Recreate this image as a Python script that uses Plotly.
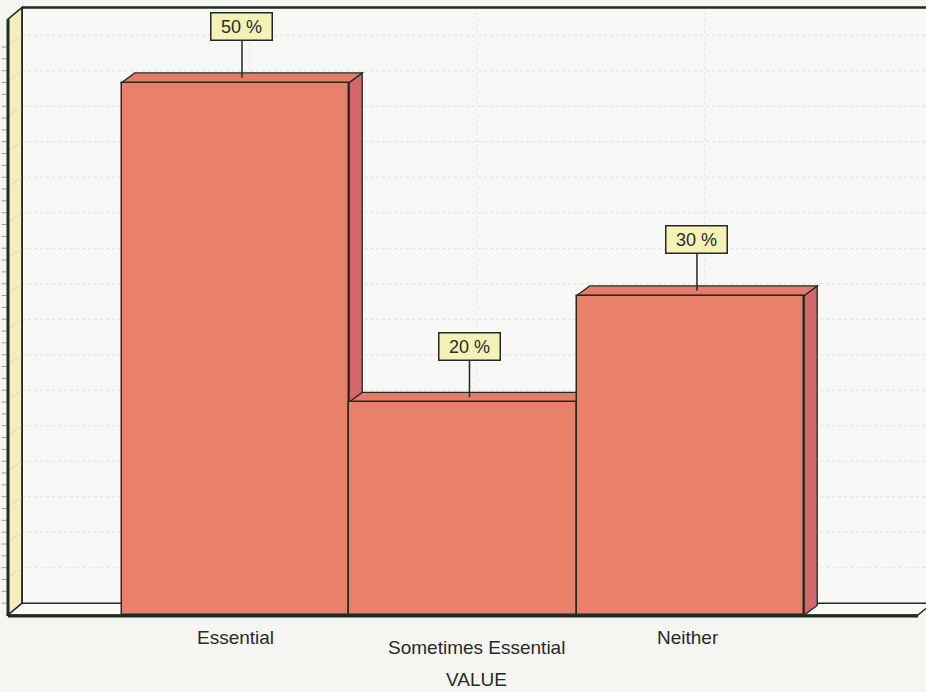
import plotly.graph_objects as go

# ---- data ----
categories = ["Essential", "Sometimes Essential", "Neither"]
percentages = [50, 20, 30]
value_labels = ["50 %", "20 %", "30 %"]
axis_title = "VALUE"

# ---- 3D frame geometry (data units) ----
X_MIN, X_MAX = -1.0, 3.0          # front edge of the floor
WALL_TOP = 55.95                   # top of the front-plane wall
FRAME_DX, FRAME_DY = 0.062, 1.10   # depth offset of the back wall
BAR_DX, BAR_DY = 0.057, 0.90       # depth offset of each bar
GRID_STEP = 10 / 3
N_GRID = 16

X_RANGE = [-1.0352, 3.0352]
Y_RANGE = [-7.23, 57.75]

# ---- colours ----
PAPER = "#f5f5f2"
BACK_WALL = "#f8f8f6"
FLOOR = "#fafaf8"
LEFT_WALL = "#f3efbd"
EDGE = "#1f2b23"
BAR_FRONT = "#e8806a"
BAR_TOP = "#e47c69"
BAR_SIDE = "#d3676c"
GRID = "#e0e0dc"
LABEL_BG = "#f5f2b8"
TEXT = "#2a2a2a"
FONT = "Liberation Sans, Arial, sans-serif"

shapes = []


def line(x0, y0, x1, y1, color=EDGE, width=1.5, dash="solid"):
    shapes.append(dict(type="line", xref="x", yref="y", x0=x0, y0=y0, x1=x1, y1=y1,
                       line=dict(color=color, width=width, dash=dash), layer="below"))


def poly(pts, fill, color=EDGE, width=1.5):
    d = "M " + " L ".join(f"{x},{y}" for x, y in pts) + " Z"
    shapes.append(dict(type="path", xref="x", yref="y", path=d, fillcolor=fill,
                       line=dict(color=color, width=width), layer="below"))


back_left = X_MIN + FRAME_DX
back_right = X_MAX + FRAME_DX + 0.2
back_top = WALL_TOP + FRAME_DY

# back wall
shapes.append(dict(type="rect", xref="x", yref="y", x0=back_left, x1=back_right,
                   y0=FRAME_DY, y1=back_top, fillcolor=BACK_WALL,
                   line=dict(width=0), layer="below"))

# horizontal gridlines on back wall
for k in range(1, N_GRID + 1):
    gy = FRAME_DY + k * GRID_STEP
    line(back_left, gy, back_right, gy, color=GRID, width=1, dash="dot")

# vertical gridlines at category centres on the back wall
for i in range(len(categories)):
    line(i + FRAME_DX, FRAME_DY, i + FRAME_DX, back_top, color="#e6e6e2", width=1, dash="dot")

# left wall
poly([(X_MIN, 0), (X_MIN, WALL_TOP), (back_left, back_top), (back_left, FRAME_DY)],
     LEFT_WALL, width=1.5)
for k in range(1, N_GRID + 1):
    line(back_left, FRAME_DY + k * GRID_STEP, X_MIN, k * GRID_STEP + 0.2,
         color="#dedab0", width=1)

# minor ticks at the outer edge of the left wall
for j in range(1, 3 * N_GRID + 1):
    ty = j * GRID_STEP / 3
    if ty < WALL_TOP:
        line(X_MIN - 0.028, ty, X_MIN - 0.004, ty, color="#9aa098", width=1)

# floor
poly([(X_MIN, 0), (X_MAX, 0), (X_MAX + FRAME_DX, FRAME_DY), (back_left, FRAME_DY)],
     FLOOR, width=1.5)

# heavy frame edges
line(X_MIN, -0.1, X_MAX, -0.1, width=3)
line(X_MIN, -0.1, X_MIN, WALL_TOP, width=3)
line(back_left, back_top, back_right, back_top, width=2.5)
line(back_left, FRAME_DY, back_left, back_top, width=1.5)

# bar side and top faces (front faces are the Bar trace)
for i, v in enumerate(percentages):
    left, right = i - 0.5, i + 0.5
    poly([(right, 0), (right + BAR_DX, BAR_DY), (right + BAR_DX, v + BAR_DY), (right, v)],
         BAR_SIDE, width=1.3)
    poly([(left, v), (left + BAR_DX, v + BAR_DY), (right + BAR_DX, v + BAR_DY), (right, v)],
         BAR_TOP, width=1.3)

fig = go.Figure()
fig.add_trace(go.Bar(
    x=list(range(len(categories))), y=percentages, width=1.0,
    marker=dict(color=BAR_FRONT, line=dict(color=EDGE, width=1.5)),
    hoverinfo="skip", showlegend=False,
))

annotations = []
# value call-outs
for i, (v, lab) in enumerate(zip(percentages, value_labels)):
    annotations.append(dict(
        x=i + BAR_DX / 2, y=v + BAR_DY / 2, xref="x", yref="y",
        text=lab, showarrow=True, ax=0, ay=-51, arrowhead=0,
        arrowwidth=1.5, arrowcolor=EDGE,
        bgcolor=LABEL_BG, bordercolor=EDGE, borderwidth=1.5, borderpad=2,
        width=56, height=22,
        font=dict(family=FONT, size=18, color=TEXT),
    ))

# category labels, staggered
cat_pos = [(0, -2.1), (1.06, -3.05), (1.99, -2.1)]
for (cx, cy), name in zip(cat_pos, categories):
    annotations.append(dict(
        x=cx, y=cy, xref="x", yref="y", text=name, showarrow=False,
        xanchor="center", yanchor="middle",
        font=dict(family=FONT, size=19, color=TEXT),
    ))

annotations.append(dict(
    x=1.06, y=-6.1, xref="x", yref="y", text=axis_title, showarrow=False,
    xanchor="center", yanchor="middle",
    font=dict(family=FONT, size=19, color=TEXT),
))

fig.update_layout(
    width=926, height=692,
    margin=dict(l=0, r=0, t=0, b=0),
    paper_bgcolor=PAPER, plot_bgcolor=PAPER,
    xaxis=dict(range=X_RANGE, visible=False, fixedrange=True),
    yaxis=dict(range=Y_RANGE, visible=False, fixedrange=True),
    bargap=0,
    shapes=shapes,
    annotations=annotations,
    showlegend=False,
)

fig.write_html("out.html")
